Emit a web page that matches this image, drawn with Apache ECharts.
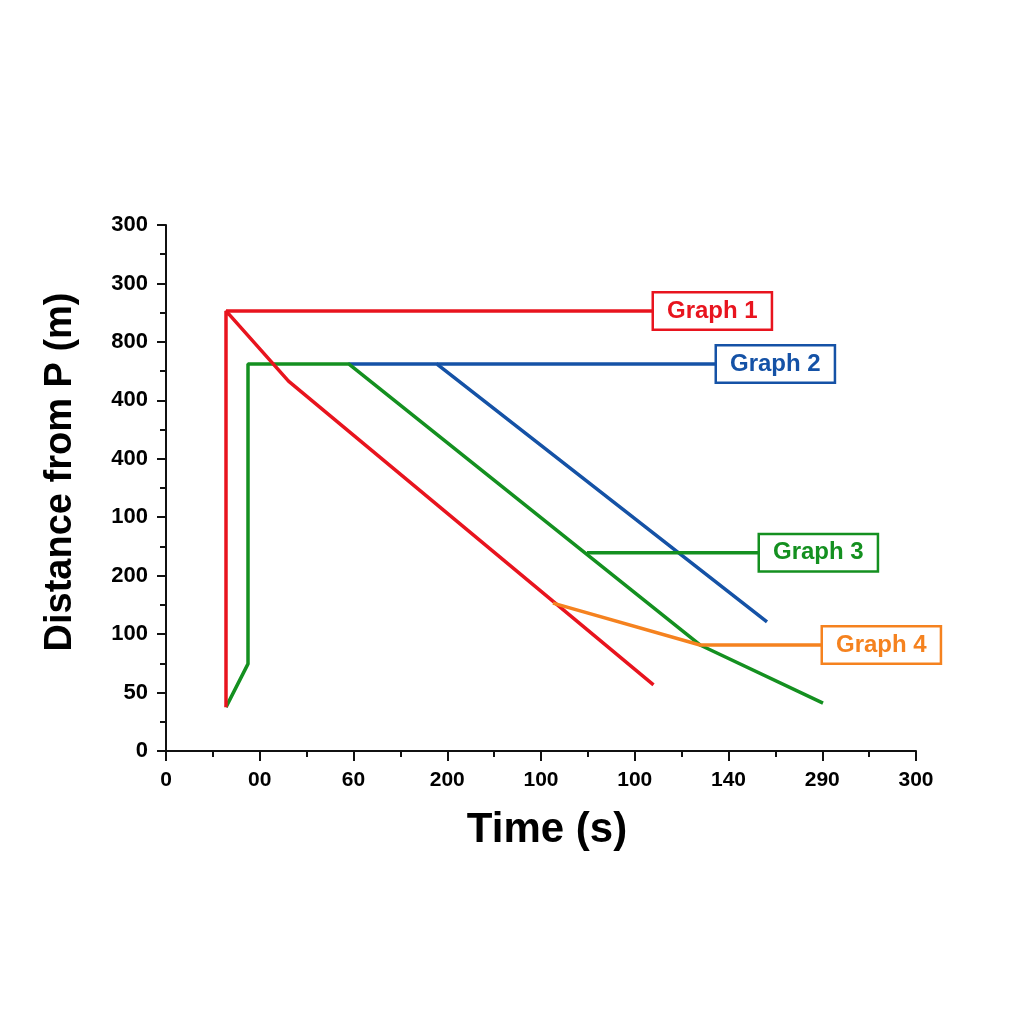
<!DOCTYPE html>
<html>
<head>
<meta charset="utf-8">
<script src="https://cdn.jsdelivr.net/npm/echarts@6/dist/echarts.min.js"></script>
<style>
  html, body { margin: 0; padding: 0; background: #fff; }
  #chart { width: 1024px; height: 1024px; }
</style>
</head>
<body>
<div id="chart"></div>
<script>
// tick labels as printed on the picture
const xTickLabels = ['0', '00', '60', '200', '100', '100', '140', '290', '300'];
const yTickLabels = ['0', '50', '100', '200', '100', '400', '400', '800', '300', '300'];

// lines in axis units (x 0-300, y 0-900)
const graph1Line = [[24, 75], [24, 753], [49, 633], [195, 113]];
const graph1Lead = [[24, 753], [195.2, 753]];
const graph2Line = [[73, 662], [108.4, 662], [240.4, 221]];
const graph2Lead = [[108.4, 662], [220.4, 662]];
const graph3Line = [[24, 75], [32.8, 149], [32.8, 662], [73.2, 662], [213.6, 181.4], [262.8, 82]];
const graph3Lead = [[168.4, 339], [237.6, 339]];
const graph4Line = [[154.8, 253], [213.6, 181.4], [262.8, 181.4]];

const labelNames = ['Graph 1', 'Graph 2', 'Graph 3', 'Graph 4'];
const labelPoints = [[195.2, 753], [220.4, 662], [237.6, 339], [262.8, 181.4]];
const colors = ['#e8141e', '#1552a6', '#149020', '#f5821f'];

const FONT = 'Liberation Sans, Arial, sans-serif';

const chart = echarts.init(document.getElementById('chart'));

function line(data, color) {
  return {
    type: 'line',
    data: data,
    symbol: 'none',
    silent: true,
    lineStyle: { color: color, width: 3.5 },
    z: 3
  };
}

const labelSeries = labelNames.map((name, i) => ({
  type: 'scatter',
  data: [labelPoints[i]],
  symbolSize: 0,
  silent: true,
  z: 5,
  label: {
    show: true,
    position: 'right',
    distance: 0,
    formatter: name,
    color: colors[i],
    opacity: 1,
    fontFamily: FONT,
    fontWeight: 'bold',
    fontSize: 24,
    lineHeight: 25,
    textBorderWidth: 0,
    textShadowBlur: 0,
    padding: [5, 13, 5, 13],
    backgroundColor: '#fff',
    borderColor: colors[i],
    borderWidth: 2.5
  }
}));

chart.setOption({
  backgroundColor: '#fff',
  animation: false,
  grid: { left: 166, right: 108, top: 225, bottom: 273 },
  xAxis: {
    type: 'value',
    min: 0,
    max: 300,
    interval: 37.5,
    name: 'Time (s)',
    nameLocation: 'middle',
    nameGap: 58,
    nameTextStyle: { color: '#000', fontSize: 42, fontWeight: 'bold', fontFamily: FONT, padding: [0, 0, 0, 12] },
    axisLine: { lineStyle: { color: '#111', width: 2 } },
    axisTick: { length: 10, lineStyle: { color: '#111', width: 2 } },
    minorTick: { show: true, splitNumber: 2, length: 6, lineStyle: { color: '#111', width: 2 } },
    splitLine: { show: false },
    axisLabel: {
      margin: 19,
      color: '#000',
      fontSize: 21,
      fontWeight: 'bold',
      fontFamily: FONT,
      formatter: v => xTickLabels[Math.round(v / 37.5)]
    }
  },
  yAxis: {
    type: 'value',
    min: 0,
    max: 900,
    interval: 100,
    name: 'Distance from P (m)',
    nameLocation: 'middle',
    nameGap: 86,
    nameRotate: 90,
    nameTextStyle: { color: '#000', fontSize: 38, fontWeight: 'bold', fontFamily: FONT, padding: [0, 0, 0, 32] },
    axisLine: { show: true, lineStyle: { color: '#111', width: 2 } },
    axisTick: { show: true, length: 9, lineStyle: { color: '#111', width: 2 } },
    minorTick: { show: true, splitNumber: 2, length: 6, lineStyle: { color: '#111', width: 2 } },
    splitLine: { show: false },
    axisLabel: {
      margin: 18,
      color: '#000',
      fontSize: 22,
      fontWeight: 'bold',
      fontFamily: FONT,
      formatter: v => yTickLabels[Math.round(v / 100)]
    }
  },
  series: [
    line(graph2Line, colors[1]),
    line(graph2Lead, colors[1]),
    line(graph3Line, colors[2]),
    line(graph3Lead, colors[2]),
    line(graph1Line, colors[0]),
    line(graph1Lead, colors[0]),
    line(graph4Line, colors[3])
  ].concat(labelSeries)
});
</script>
</body>
</html>
